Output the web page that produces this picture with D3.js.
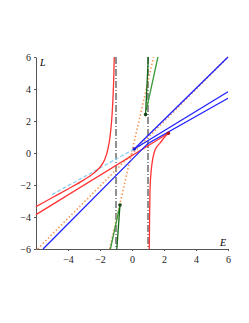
<!DOCTYPE html>
<html>
<head>
<meta charset="utf-8">
<script src="https://cdn.jsdelivr.net/npm/d3@7"></script>
<style>
  body { margin: 0; background: #fff; }
  .axis text { font-family: "Liberation Serif", "DejaVu Serif", serif; font-size: 10px; fill: #222; }
  .axis path, .axis line { stroke: #555; }
</style>
</head>
<body>
<div id="chart"></div>
<script>
// values, as [E, L] pairs
var xTicks = [-4, -2, 0, 2, 4, 6];
var yTicks = [-6, -4, -2, 0, 2, 4, 6];
var asymptotes = [-1, 1];

var redLeft = [[-6, -3.35], [-5, -2.8], [-4, -2.25], [-3, -1.68], [-2.5, -1.35], [-2.1, -1.0], [-1.8, -0.6], [-1.58, -0.05], [-1.42, 0.7], [-1.3, 1.7], [-1.21, 3.0], [-1.15, 4.4], [-1.11, 6]];
var redRight = [[1.08, -6], [1.1, -4], [1.125, -2.3], [1.2, -1.1], [1.3, -0.35], [1.44, 0.19], [1.6, 0.45], [1.75, 0.62], [2.0, 0.95], [2.27, 1.23]];
var redLine = [[-6, -3.85], [2.27, 1.23]];
var blueLower = [[-5.56, -6], [1.0, 0.6], [6, 3.42]];
var blueMid = [[0.14, 0.25], [6, 3.83]];
var blueTop = [[0.14, 0.25], [6, 6]];
var greenUpDark = [[0.85, 2.4], [1.02, 6]];
var greenUpLight = [[0.9, 2.7], [1.62, 6]];
var greenLowDark = [[-0.75, -3.25], [-0.95, -6]];
var greenLowLight = [[-0.78, -3.4], [-1.35, -6]];
var orangeA = [[-5.9, -6], [6, 6]];
var orangeB = [[-1.4, -6], [1.35, 6]];
var lightBlue = [[-5, -2.6], [0.14, 0.25]];
var dots = [
  {p: [0.14, 0.25], c: "#2222cc"},
  {p: [2.27, 1.23], c: "#aa1111"},
  {p: [0.85, 2.4], c: "#114411"},
  {p: [-0.75, -3.25], c: "#114411"}
];

var width = 249, height = 323;
var svg = d3.select("#chart").append("svg")
    .attr("width", width)
    .attr("height", height);

var x = d3.scaleLinear().domain([-6, 6]).range([36, 228]);
var y = d3.scaleLinear().domain([-6, 6]).range([249, 57]);

var fmt = function(d) { return d < 0 ? "\u2212" + Math.abs(d) : "" + d; };

var line = d3.line()
    .x(function(d) { return x(d[0]); })
    .y(function(d) { return y(d[1]); });
var curveY = d3.line()
    .curve(d3.curveMonotoneY)
    .x(function(d) { return x(d[0]); })
    .y(function(d) { return y(d[1]); });
var curveX = d3.line()
    .curve(d3.curveMonotoneX)
    .x(function(d) { return x(d[0]); })
    .y(function(d) { return y(d[1]); });

svg.append("g")
    .attr("class", "axis")
    .attr("transform", "translate(0," + y(-6) + ")")
    .call(d3.axisBottom(x).tickValues(xTicks).tickSize(2).tickSizeOuter(0).tickFormat(fmt))
    .selectAll("text").attr("dy", "0.9em");

svg.append("g")
    .attr("class", "axis")
    .attr("transform", "translate(" + x(-6) + ",0)")
    .call(d3.axisLeft(y).tickValues(yTicks).tickSize(2).tickSizeOuter(0).tickFormat(fmt))
    .selectAll("text").attr("dy", "0.35em");

// dash-dot asymptotes
svg.selectAll(".asym")
    .data(asymptotes)
  .enter().append("line")
    .attr("class", "asym")
    .attr("x1", function(d) { return x(d); })
    .attr("x2", function(d) { return x(d); })
    .attr("y1", y(6))
    .attr("y2", y(-6))
    .style("stroke", "#222")
    .style("stroke-width", 1)
    .style("stroke-dasharray", "7,2,1,2");

function draw(data, color, dash, gen, w) {
  return svg.append("path")
      .datum(data)
      .attr("d", gen || line)
      .style("fill", "none")
      .style("stroke", color)
      .style("stroke-width", w || 1.3)
      .style("stroke-dasharray", dash || null);
}

draw(orangeA, "#f5995a", "1.5,2.2", null, 1.6);
draw(orangeB, "#f5995a", "1.5,2.2", null, 1.6);
draw(lightBlue, "#8fd0f5", "4,2", null, 1.3);
draw(redLeft, "#ff3333", null, curveY);
draw(redRight, "#ff3333", null, curveX);
draw(redLine, "#ff3333");
draw(blueLower, "#2020ff");
draw(blueMid, "#2020ff");
draw(blueTop, "#2020ff");
draw(greenUpLight, "#3a9a3a");
draw(greenUpDark, "#116611");
draw(greenLowLight, "#3a9a3a");
draw(greenLowDark, "#116611");

svg.selectAll(".dot")
    .data(dots)
  .enter().append("circle")
    .attr("class", "dot")
    .attr("cx", function(d) { return x(d.p[0]); })
    .attr("cy", function(d) { return y(d.p[1]); })
    .attr("r", 1.8)
    .style("fill", function(d) { return d.c; });

svg.append("text")
    .attr("x", 40).attr("y", 66)
    .style("font-family", "Liberation Serif, serif")
    .style("font-style", "italic")
    .style("font-size", "10px")
    .text("L");

svg.append("text")
    .attr("x", 220).attr("y", 246)
    .style("font-family", "Liberation Serif, serif")
    .style("font-style", "italic")
    .style("font-size", "10px")
    .text("E");
</script>
</body>
</html>
